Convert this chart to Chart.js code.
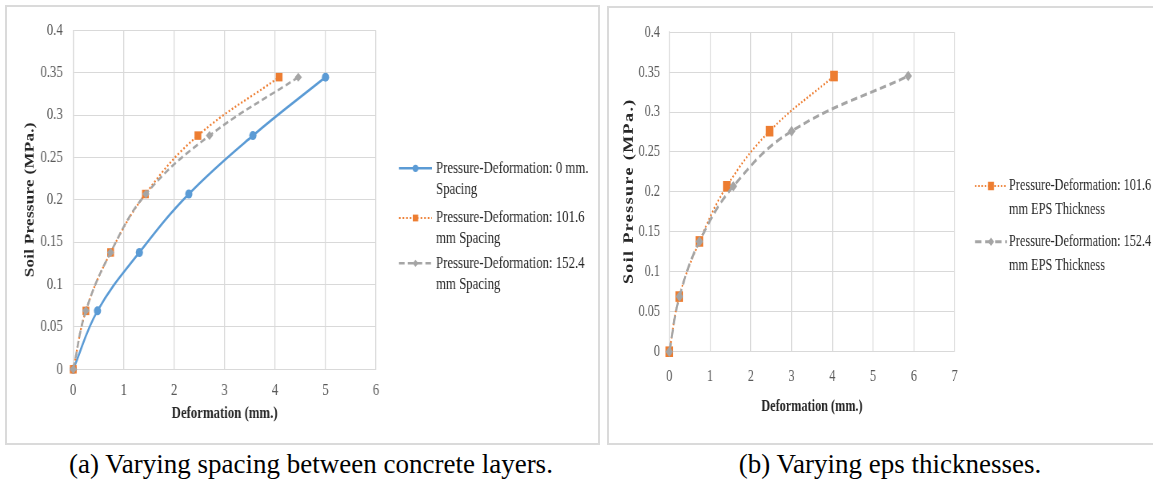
<!DOCTYPE html>
<html>
<head>
<meta charset="utf-8">
<script src="https://cdn.jsdelivr.net/npm/chart.js@4.4.1/dist/chart.umd.min.js"></script>
<style>
  html, body { margin: 0; padding: 0; background: #ffffff; }
  body { width: 1153px; height: 480px; position: relative; overflow: hidden; font-family: "Liberation Serif", "Times New Roman", serif; }
  .box { position: absolute; border: 2px solid #dadada; box-sizing: border-box; }
  canvas { position: absolute; transform-origin: 0 0; }
  .cap { position: absolute; top: 447px; font-size: 27px; line-height: 34px; color: #000; white-space: nowrap; }
</style>
</head>
<body>
<div class="box" style="left:5px; top:5px; width:595px; height:440px;"></div>
<div class="box" style="left:607px; top:6px; width:560px; height:439px;"></div>
<canvas id="cA" width="736" height="434" style="left:8px; top:8px; transform:scaleX(0.8);"></canvas>
<canvas id="cB" width="756" height="434" style="left:609px; top:9px; transform:scaleX(0.72);"></canvas>
<div class="cap" id="capA" style="left:0px; width:622px; text-align:center;">(a) Varying spacing between concrete layers.</div>
<div class="cap" id="capB" style="left:640px; width:500px; text-align:center;">(b) Varying eps thicknesses.</div>
<script>
// ---------------- DATA ----------------
const pressure = [0, 0.069, 0.138, 0.207, 0.276, 0.345];           // Soil pressure (MPa.)
// (a) Varying spacing between concrete layers
const defA_0mm   = [0, 0.48, 1.31, 2.29, 3.56, 5.00];
const defA_101mm = [0, 0.25, 0.74, 1.43, 2.47, 4.08];
const defA_152mm = [0, 0.25, 0.74, 1.44, 2.70, 4.46];
const namesA = [
  ["Pressure-Deformation: 0 mm.", "Spacing"],
  ["Pressure-Deformation: 101.6", "mm Spacing"],
  ["Pressure-Deformation: 152.4", "mm Spacing"]
];
// (b) Varying eps thicknesses
const defB_101mm = [0, 0.245, 0.74, 1.41, 2.46, 4.04];
const defB_152mm = [0, 0.25, 0.74, 1.57, 3.00, 5.86];
const namesB = [
  ["Pressure-Deformation: 101.6", "mm EPS Thickness"],
  ["Pressure-Deformation: 152.4", "mm EPS Thickness"]
];
const yTickLabels = ["0", "0.05", "0.1", "0.15", "0.2", "0.25", "0.3", "0.35", "0.4"];
const xTitle = "Deformation (mm.)";
const yTitle = "Soil Pressure (MPa.)";

// --------------- HELPERS ---------------
const FONT = '"Liberation Serif", "Times New Roman", serif';
const BLUE = '#5B9BD5', ORANGE = '#ED7D31', GRAY = '#A5A5A5', GRID = '#d9d9d9';
const pts = xs => xs.map((x, i) => ({ x: x, y: pressure[i] }));

function series(label, xs, color, style, extra) {
  return Object.assign({
    label: label.join(' '),
    legendLines: label,
    data: pts(xs),
    showLine: true,
    borderColor: color,
    backgroundColor: color,
    pointBackgroundColor: color,
    pointBorderColor: color,
    pointBorderWidth: 0,
    tension: 0.4,
    clip: false,
    pointStyle: style
  }, extra);
}

const legendPlugin = {
  id: 'customLegend',
  afterDraw(chart, args, opts) {
    const ctx = chart.ctx;
    ctx.save();
    chart.data.datasets.forEach((ds, i) => {
      const it = opts.items[i];
      const yc = it.y;
      ctx.save();
      ctx.strokeStyle = ds.borderColor;
      ctx.lineWidth = ds.borderWidth;
      ctx.setLineDash(ds.borderDash || []);
      ctx.beginPath();
      ctx.moveTo(opts.x0, yc);
      ctx.lineTo(opts.x1, yc);
      ctx.stroke();
      ctx.setLineDash([]);
      ctx.fillStyle = ds.pointBackgroundColor;
      ctx.strokeStyle = ds.pointBorderColor;
      Chart.helpers.drawPoint(ctx, { pointStyle: ds.pointStyle, radius: ds.pointRadius * opts.markerScale, rotation: 0, borderWidth: 0 }, (opts.x0 + opts.x1) / 2, yc);
      ctx.restore();
      ctx.fillStyle = '#262626';
      ctx.font = opts.fontSize + 'px ' + FONT;
      ctx.textBaseline = 'middle';
      ctx.textAlign = 'left';
      ds.legendLines.forEach((t, k) => ctx.fillText(t, opts.tx, yc + k * opts.lineGap));
    });
    ctx.restore();
  }
};

// vertical axis title drawn with letter spacing (rotated)
const yTitlePlugin = {
  id: 'yTitleSpaced',
  afterDraw(chart, args, opts) {
    const ctx = chart.ctx;
    const area = chart.chartArea;
    ctx.save();
    ctx.translate(opts.x, (area.top + area.bottom) / 2);
    ctx.rotate(-Math.PI / 2);
    ctx.font = 'bold ' + opts.size + 'px ' + FONT;
    if ('letterSpacing' in ctx) ctx.letterSpacing = opts.spacing + 'px';
    ctx.fillStyle = '#262626';
    ctx.textAlign = 'center';
    ctx.textBaseline = 'middle';
    ctx.fillText(yTitle, opts.spacing / 2, 0);
    ctx.restore();
  }
};

function makeOptions(p) {
  return {
    responsive: false,
    animation: false,
    devicePixelRatio: 1,
    layout: { padding: { left: 0, right: p.padRight, top: p.padTop, bottom: 0 } },
    plugins: {
      legend: { display: false },
      tooltip: { enabled: false },
      customLegend: p.legend,
      yTitleSpaced: p.yTitle
    },
    scales: {
      x: {
        type: 'linear', min: 0, max: p.xMax,
        afterFit: s => { s.height = p.xHeight; },
        ticks: { stepSize: 1, padding: p.xTickPad, color: '#595959', font: { family: FONT, size: p.tickSize } },
        grid: { color: GRID, lineWidth: 1.3, drawTicks: false },
        border: { color: GRID, width: 1 },
        title: { display: true, text: xTitle, color: '#262626', font: { family: FONT, size: p.xTitleSize, weight: 'bold' }, padding: { top: 0, bottom: p.xTitlePad } }
      },
      y: {
        type: 'linear', min: 0, max: 0.4,
        afterFit: s => { s.width = p.yWidth; },
        ticks: { stepSize: 0.05, padding: p.yTickPad, color: '#595959', font: { family: FONT, size: p.tickSize },
                 callback: (v) => yTickLabels[Math.round(v / 0.05)] },
        grid: { color: GRID, lineWidth: 1, drawTicks: false },
        border: { color: GRID, width: 1.3 },
        title: { display: false }
      }
    }
  };
}

// --------------- CHART A ---------------
new Chart(document.getElementById('cA'), {
  type: 'scatter',
  data: {
    datasets: [
      series(namesA[0], defA_0mm, BLUE, 'circle', { borderWidth: 2.5, pointRadius: 4.5, order: 2 }),
      series(namesA[1], defA_101mm, ORANGE, 'rect', { borderWidth: 2.2, borderDash: [2, 2.5], pointRadius: 6, order: 1 }),
      series(namesA[2], defA_152mm, GRAY, 'rectRot', { borderWidth: 2.5, borderDash: [7, 4], pointRadius: 4.5, order: 0 })
    ]
  },
  options: makeOptions({
    padRight: 276, padTop: 16, xMax: 6, xHeight: 72.7, xTickPad: 12, yWidth: 81.6, yTickPad: 13,
    tickSize: 16, xTitleSize: 16, xTitlePad: 18.4,
    yTitle: { x: 27.5, size: 17, spacing: 0.3 },
    legend: { x0: 488.75, x1: 530, tx: 535, fontSize: 16, lineGap: 21, markerScale: 0.8,
              items: [{ y: 160.3 }, { y: 210 }, { y: 255.3 }] }
  }),
  plugins: [legendPlugin, yTitlePlugin]
});

// --------------- CHART B ---------------
new Chart(document.getElementById('cB'), {
  type: 'scatter',
  data: {
    datasets: [
      series(namesB[0], defB_101mm, ORANGE, 'rect', { borderWidth: 2.2, borderDash: [2, 2.5], pointRadius: 7.5, order: 1 }),
      series(namesB[1], defB_152mm, GRAY, 'rectRot', { borderWidth: 3, borderDash: [9, 5], pointRadius: 5.3, order: 0 })
    ]
  },
  options: makeOptions({
    padRight: 275.9, padTop: 21, xMax: 7, xHeight: 91.3, xTickPad: 15, yWidth: 83.75, yTickPad: 12.9,
    tickSize: 17, xTitleSize: 17, xTitlePad: 26.1,
    yTitle: { x: 28.2, size: 18, spacing: 1.4 },
    legend: { x0: 508.3, x1: 552.8, tx: 555.6, fontSize: 17, lineGap: 24, markerScale: 0.8,
              items: [{ y: 177 }, { y: 232.7 }] }
  }),
  plugins: [legendPlugin, yTitlePlugin]
});
</script>
</body>
</html>
